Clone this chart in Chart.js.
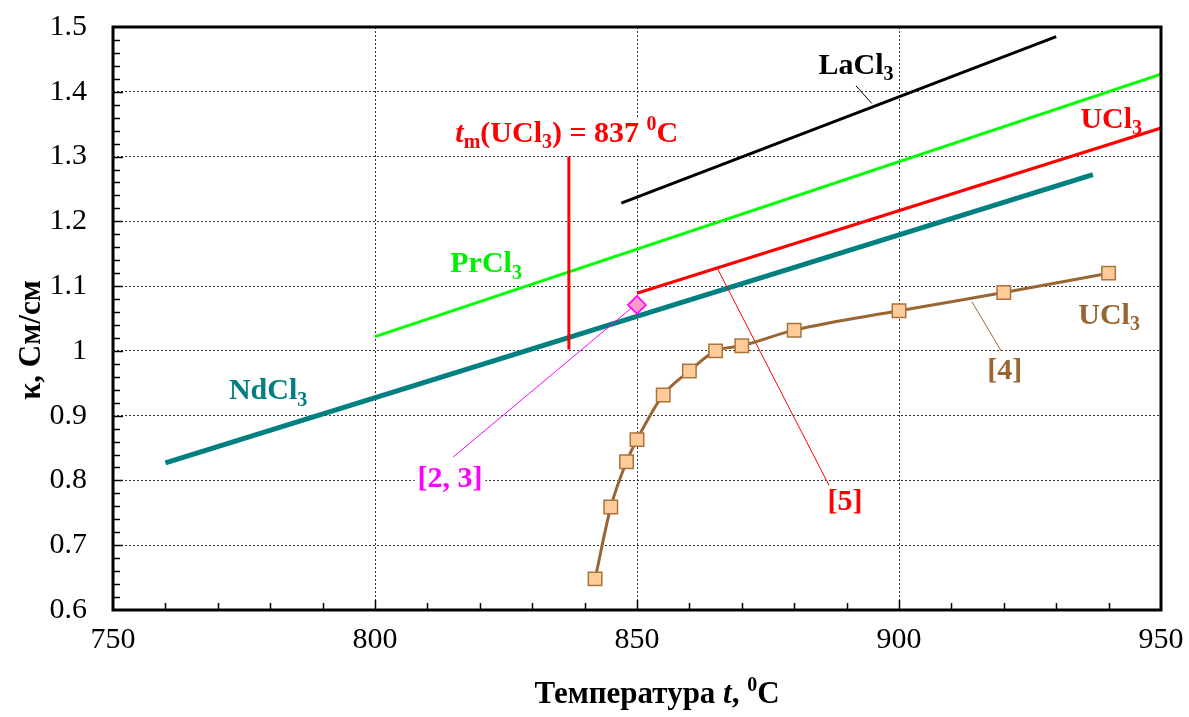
<!DOCTYPE html>
<html>
<head>
<meta charset="utf-8">
<script src="https://cdn.jsdelivr.net/npm/chart.js@4.4.0/dist/chart.umd.min.js"></script>
<style>
html, body { margin: 0; padding: 0; background: #fff; }
</style>
</head>
<body>
<canvas id="chart" width="1189" height="717"></canvas>
<script>
// data (t in degC, kappa in S/cm)
var ndT = [760, 937];
var ndK = [0.827, 1.272];
var prT = [800, 950];
var prK = [1.022, 1.427];
var laT = [847, 930];
var laK = [1.228, 1.485];
var ucT = [850, 950];
var ucK = [1.089, 1.344];
var meltT = [837, 837];
var meltK = [1.002, 1.30];
var refT = [850];
var refK = [1.071];
var u4T = [842, 845, 848, 850, 855, 860, 865, 870, 880, 900, 920, 940];
var u4K = [0.648, 0.759, 0.829, 0.863, 0.932, 0.969, 1.0, 1.008, 1.032, 1.062, 1.090, 1.120];

// leader lines from labels to curves
var leadLaT = [891.8, 894.8], leadLaK = [1.409, 1.382];
var lead5T = [865.3, 886.8], lead5K = [1.128, 0.790];
var lead23T = [849.2, 814.9], lead23K = [1.068, 0.836];
var lead4T = [913.9, 919.5], lead4K = [1.076, 1.0];

var xTicks = [750, 800, 850, 900, 950];
var yTicks = [0.6, 0.7, 0.8, 0.9, 1, 1.1, 1.2, 1.3, 1.4, 1.5];

function pts(xs, ys) {
    return xs.map(function(x, i){ return {x: x, y: ys[i]}; });
}

function line(xs, ys, color, width) {
    return {
        data: pts(xs, ys),
        borderColor: color,
        borderWidth: width,
        pointRadius: 0,
        fill: false
    };
}

// text labels: runs of text, anchored at a point in data units
var notes = [
    {x: 891.8, y: 1.440, color: '#000000', runs: [{t: 'LaCl'}, {t: '3', sub: 1}]},
    {x: 940.5, y: 1.356, color: '#ff0000', runs: [{t: 'UCl'}, {t: '3', sub: 1}]},
    {x: 836.6, y: 1.335, color: '#ff0000', bg: 1, runs: [{t: 't', it: 1}, {t: 'm', sub: 1}, {t: '(UCl'}, {t: '3', sub: 1}, {t: ') = 837 '}, {t: '0', sup: 1}, {t: 'C'}]},
    {x: 821.2, y: 1.133, color: '#00ee00', runs: [{t: 'PrCl'}, {t: '3', sub: 1}]},
    {x: 779.6, y: 0.937, color: '#008080', runs: [{t: 'NdCl'}, {t: '3', sub: 1}]},
    {x: 814.3, y: 0.802, color: '#ff00ff', bg: 1, runs: [{t: '[2, 3]'}]},
    {x: 889.7, y: 0.767, color: '#ff0000', bg: 1, runs: [{t: '[5]'}]},
    {x: 920.2, y: 0.969, color: '#996633', bg: 1, runs: [{t: '[4]'}]},
    {x: 940.1, y: 1.054, color: '#996633', runs: [{t: 'UCl'}, {t: '3', sub: 1}]}
];

var FONT = '"Liberation Serif", "Times New Roman", serif';

function runFont(r, size) {
    var s = (r.sub || r.sup) ? Math.round(size * 0.65) : size;
    return (r.it ? 'italic ' : '') + 'bold ' + s + 'px ' + FONT;
}

function drawRuns(ctx, runs, cx, cy, size, color, bg, rotate) {
    var total = 0;
    runs.forEach(function(r){
        ctx.font = runFont(r, size);
        r.w = ctx.measureText(r.t).width;
        total += r.w;
    });
    ctx.save();
    ctx.translate(cx, cy);
    if (rotate) ctx.rotate(-Math.PI / 2);
    var x = -total / 2;
    if (bg) {
        ctx.fillStyle = '#ffffff';
        ctx.fillRect(x - 3, -size * 0.55, total + 6, size * 1.2);
    }
    ctx.fillStyle = color;
    ctx.textAlign = 'left';
    ctx.textBaseline = 'middle';
    runs.forEach(function(r){
        ctx.font = runFont(r, size);
        var dy = r.sub ? size * 0.3 : (r.sup ? -size * 0.3 : 0);
        ctx.fillText(r.t, x, dy);
        x += r.w;
    });
    ctx.restore();
}

var decor = {
    id: 'decor',
    afterDatasetsDraw: function(chart){
        var ctx = chart.ctx;
        var a = chart.chartArea;
        var xs = chart.scales.x, ys = chart.scales.y;

        notes.forEach(function(n){
            drawRuns(ctx, n.runs, xs.getPixelForValue(n.x), ys.getPixelForValue(n.y), 30, n.color, n.bg);
        });

        // inner ticks
        ctx.save();
        ctx.strokeStyle = '#000';
        ctx.lineWidth = 1.5;
        ctx.beginPath();
        for (var t = 760; t < 950; t += 10) {
            var px = Math.round(xs.getPixelForValue(t)) + 0.5;
            var len = (t % 50 == 0) ? 10 : 7;
            ctx.moveTo(px, a.bottom);
            ctx.lineTo(px, a.bottom - len);
        }
        for (var k = 31; k < 75; k++) {
            var py = Math.round(ys.getPixelForValue(k * 0.02)) + 0.5;
            var l2 = (k % 5 == 0) ? 10 : 7;
            ctx.moveTo(a.left, py);
            ctx.lineTo(a.left + l2, py);
        }
        ctx.stroke();

        // frame
        ctx.lineWidth = 3;
        ctx.strokeRect(a.left, a.top, a.right - a.left, a.bottom - a.top);
        ctx.restore();

        // axis titles
        drawRuns(ctx, [{t: 'Температура '}, {t: 't', it: 1}, {t: ', '}, {t: '0', sup: 1}, {t: 'C'}], 657, 695, 31, '#000');
        drawRuns(ctx, [{t: 'κ, См/см'}], 32, 340, 31, '#000', 0, true);
    }
};

var u4 = {
    data: pts(u4T, u4K),
    borderColor: '#996633',
    borderWidth: 3,
    cubicInterpolationMode: 'monotone',
    pointStyle: 'rect',
    pointRadius: 9.5,
    pointBackgroundColor: '#ffcc99',
    pointBorderColor: '#a8743c',
    pointBorderWidth: 1.5,
    fill: false
};

var ref = {
    data: pts(refT, refK),
    showLine: false,
    pointStyle: 'rectRot',
    pointRadius: 9,
    pointBackgroundColor: '#ff99cc',
    pointBorderColor: '#ff00ff',
    pointBorderWidth: 1.5
};

var chart = new Chart(document.getElementById('chart').getContext('2d'), {
    type: 'scatter',
    data: {
        datasets: [
            ref,
            u4,
            line(lead23T, lead23K, '#ff00ff', 1),
            line(lead5T, lead5K, '#ff0000', 1),
            line(lead4T, lead4K, '#996633', 1),
            line(leadLaT, leadLaK, '#000000', 1),
            line(meltT, meltK, '#ff0000', 3),
            line(ucT, ucK, '#ff0000', 3),
            line(ndT, ndK, '#008080', 5),
            line(laT, laK, '#000000', 3),
            line(prT, prK, '#00ff00', 3)
        ].map(function(d){ d.showLine = d.showLine !== false; return d; })
    },
    options: {
        responsive: false,
        animation: false,
        layout: { padding: { top: 27, right: 28, left: 0, bottom: 0 } },
        plugins: { legend: { display: false }, tooltip: { enabled: false } },
        scales: {
            x: {
                type: 'linear',
                min: 750,
                max: 950,
                afterBuildTicks: function(s){ s.ticks = xTicks.map(function(v){ return {value: v}; }); },
                afterFit: function(s){ s.height = 107; s.paddingLeft = 0; s.paddingRight = 0; },
                ticks: { color: '#000', font: { family: FONT, size: 30 }, padding: 12, maxRotation: 0,
                         callback: function(v){ return String(v); } },
                grid: { color: '#333', lineWidth: 1, drawTicks: false },
                border: { display: false, dash: [2, 2] }
            },
            y: {
                min: 0.6,
                max: 1.5,
                afterBuildTicks: function(s){ s.ticks = yTicks.map(function(v){ return {value: v}; }); },
                afterFit: function(s){ s.width = 113; s.paddingTop = 0; s.paddingBottom = 0; },
                ticks: { color: '#000', font: { family: FONT, size: 30 }, padding: 26,
                         callback: function(v){ return String(v); } },
                grid: { color: '#333', lineWidth: 1, drawTicks: false },
                border: { display: false, dash: [2, 2] }
            }
        }
    },
    plugins: [decor]
});
</script>
</body>
</html>
